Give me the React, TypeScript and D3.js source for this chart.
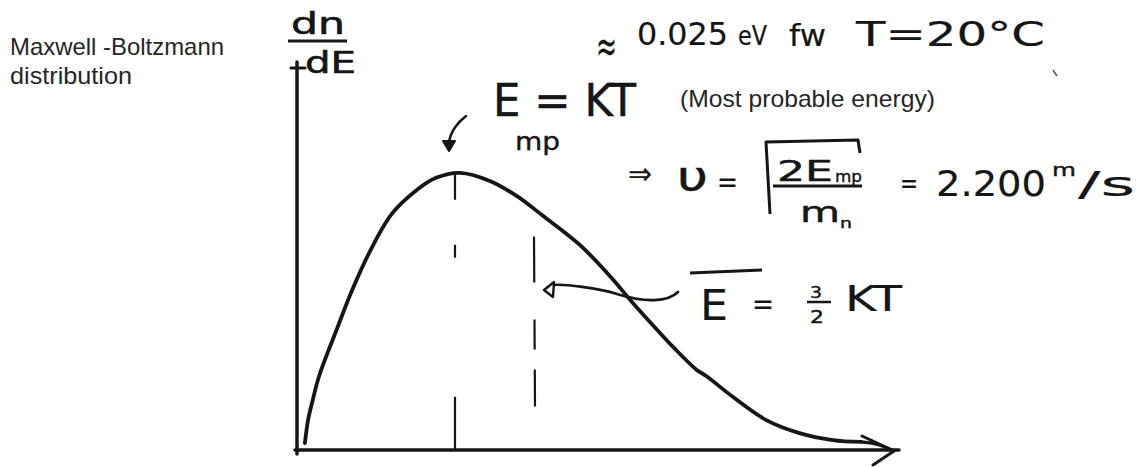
import React from "react";
import * as d3 from "d3";

const W = 1145;
const H = 467;

// Energy in units of kT and relative dn/dE (peak normalised to 1)
const energy = [0.05, 0.07, 0.1, 0.14, 0.25, 0.35, 0.46, 0.6, 0.76, 0.88, 1.03, 1.22, 1.39, 1.55, 1.79, 1.98, 2.12, 2.28, 2.38, 2.53, 2.59, 2.76, 2.97, 3.18, 3.39, 3.57];
const density = [0.025, 0.108, 0.181, 0.267, 0.433, 0.578, 0.715, 0.852, 0.939, 0.982, 1.0, 0.971, 0.917, 0.848, 0.74, 0.628, 0.534, 0.433, 0.372, 0.289, 0.267, 0.191, 0.108, 0.061, 0.036, 0.029];

const modeEnergy = 1; // E_mp = kT
const meanEnergy = 1.5; // mean E = 3/2 kT
const meanLineTop = 0.77;
const meanLineBottom = 0.155;
const energyMax = 3.81;
const densityMax = 1.4;

const INK = "#161616";
const HAND = "DejaVu Sans, sans-serif";
const PRINT = "Liberation Sans, Arial, sans-serif";

type HProps = {
  x: number;
  y: number;
  size: number;
  len?: number;
  children: React.ReactNode;
  weight?: number;
};

function Hand({ x, y, size, len, children, weight = 0.2 }: HProps) {
  return (
    <text
      x={x}
      y={y}
      fontFamily={HAND}
      fontSize={size}
      fill={INK}
      stroke={INK}
      strokeWidth={weight}
      textLength={len}
      lengthAdjust={len ? "spacingAndGlyphs" : undefined}
    >
      {children}
    </text>
  );
}

export default function App() {
  const x = d3.scaleLinear().domain([0, energyMax]).range([297, 899]);
  const y = d3.scaleLinear().domain([0, densityMax]).range([450, 62]);

  const pts: [number, number][] = energy.map((e, i) => [e, density[i]]);
  const line = d3
    .line<[number, number]>()
    .x((d) => x(d[0]))
    .y((d) => y(d[1]))
    .curve(d3.curveCatmullRom.alpha(0.5));

  const x0 = x(0);
  const y0 = y(0);
  const xEnd = x(energyMax);
  const yTop = y(densityMax);
  const last = pts[pts.length - 1];
  const lx = x(last[0]);
  const ly = y(last[1]);

  const xm = x(modeEnergy);
  const xa = x(meanEnergy);

  return (
    <svg
      width={W}
      height={H}
      viewBox={`0 0 ${W} ${H}`}
      style={{ position: "absolute", left: 0, top: 0, background: "#fff" }}
    >
      <rect width={W} height={H} fill="#fff" />

      {/* title */}
      <text x={10} y={55} fontFamily={PRINT} fontSize={24} fill="#262626" textLength={214} lengthAdjust="spacingAndGlyphs">
        Maxwell -Boltzmann
      </text>
      <text x={10} y={84} fontFamily={PRINT} fontSize={24} fill="#262626" textLength={122} lengthAdjust="spacingAndGlyphs">
        distribution
      </text>

      {/* axes */}
      <g stroke={INK} strokeWidth={3.5} strokeLinecap="round" fill="none">
        <line x1={x0} y1={yTop} x2={x0} y2={y0 + 4} />
        <line x1={x0 - 2} y1={y0} x2={xEnd} y2={y0} />
        <line x1={x0 - 6} y1={yTop + 6} x2={x0 + 8} y2={yTop + 6} strokeWidth={3} />
        <path d={`M${xEnd - 37},${y0 - 14} L${xEnd - 5},${y0 + 1} L${xEnd - 26},${y0 + 15}`} strokeWidth={3} />
      </g>

      {/* y label dn/dE */}
      <Hand x={291} y={34} size={30} len={54} weight={0.6}>dn</Hand>
      <line x1={288} y1={41} x2={347} y2={41} stroke={INK} strokeWidth={3} />
      <Hand x={305} y={73} size={30} len={51} weight={0.6}>dE</Hand>

      {/* distribution curve */}
      <path d={line(pts) || ""} fill="none" stroke={INK} strokeWidth={3.8} strokeLinecap="round" strokeLinejoin="round" />
      <path d={`M${lx},${ly} C${lx + 12},${ly + 1} ${xEnd - 20},${y0 - 6} ${xEnd - 5},${y0 + 1}`} fill="none" stroke={INK} strokeWidth={3.2} />

      {/* most probable energy marker */}
      <line x1={xm} y1={y(modeEnergy)} x2={xm} y2={y0} stroke={INK} strokeWidth={2.2} strokeDasharray="27 45 13 139 55" />
      {/* mean energy marker */}
      <line x1={xa} y1={y(meanLineTop)} x2={xa + 1} y2={y(meanLineBottom)} stroke={INK} strokeWidth={2.2} strokeDasharray="46 37 30 20 37" />

      {/* E_mp label and arrow */}
      <Hand x={493} y={116} size={44} len={143} weight={0.5}>E = KT</Hand>
      <Hand x={515} y={150} size={24} len={45} weight={0.4}>mp</Hand>
      <path d="M466,116 C458,122 450,132 449,143" fill="none" stroke={INK} strokeWidth={2.6} strokeLinecap="round" />
      <path d="M443,141 L455,141 L449,151 Z" fill={INK} stroke={INK} strokeWidth={2} strokeLinejoin="round" />

      <text x={680} y={107} fontFamily={PRINT} fontSize={24} fill="#262626" textLength={255} lengthAdjust="spacingAndGlyphs">
        (Most probable energy)
      </text>

      {/* kT at room temperature */}
      <Hand x={596} y={62} size={46} len={21}>≈</Hand>
      <Hand x={637} y={45} size={32} len={91}>0.025</Hand>
      <Hand x={738} y={45} size={26} len={29}>eV</Hand>
      <Hand x={789} y={46} size={30} len={37}>fw</Hand>
      <Hand x={856} y={46} size={34} len={189}>T=20°C</Hand>

      {/* speed at most probable energy */}
      <Hand x={628} y={184} size={30} len={24}>⇒</Hand>
      <Hand x={677} y={190} size={40} len={31} weight={0.5}>υ</Hand>
      <Hand x={717} y={192} size={30} len={21}>=</Hand>
      <path d="M770,214 L766,142 L858,140 L860,153" fill="none" stroke={INK} strokeWidth={3} strokeLinejoin="round" />
      <Hand x={777} y={181} size={28} len={56} weight={0.5}>2E</Hand>
      <Hand x={835} y={182} size={16} len={27} weight={0.4}>mp</Hand>
      <line x1={773} y1={186} x2={862} y2={186} stroke={INK} strokeWidth={3} />
      <Hand x={800} y={222} size={28} len={40} weight={0.5}>m</Hand>
      <Hand x={840} y={228} size={14} len={12} weight={0.4}>n</Hand>
      <Hand x={900} y={193} size={28} len={18}>=</Hand>
      <Hand x={936} y={196} size={36} len={110}>2.200</Hand>
      <Hand x={1052} y={176} size={18} len={24} weight={0.4}>m</Hand>
      <Hand x={1078} y={196} size={34} len={57}>/s</Hand>

      {/* mean energy label and arrow */}
      <line x1={690} y1={273} x2={762} y2={270} stroke={INK} strokeWidth={3} />
      <Hand x={700} y={320} size={42} len={28}>E</Hand>
      <Hand x={752} y={314} size={30} len={22}>=</Hand>
      <Hand x={810} y={298} size={15} len={12} weight={0.4}>3</Hand>
      <line x1={807} y1={302} x2={831} y2={302} stroke={INK} strokeWidth={2.5} />
      <Hand x={810} y={323} size={17} len={14} weight={0.4}>2</Hand>
      <Hand x={845} y={311} size={36} len={57}>KT</Hand>
      <path d={`M678,292 C668,302 645,303 617,294 C598,288 ${xa + 30},284 ${xa + 20},285`} fill="none" stroke={INK} strokeWidth={2.6} strokeLinecap="round" />
      <path d={`M${xa + 10},290 L${xa + 20},282 L${xa + 19},297 Z`} fill="none" stroke={INK} strokeWidth={2.4} strokeLinejoin="round" />

      {/* stray pen mark */}
      <line x1={1053} y1={70} x2={1057} y2={76} stroke="#555" strokeWidth={1.5} />
    </svg>
  );
}
